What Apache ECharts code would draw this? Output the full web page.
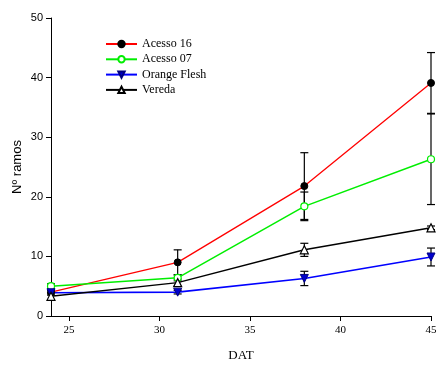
<!DOCTYPE html>
<html><head><meta charset="utf-8">
<script src="https://cdn.jsdelivr.net/npm/echarts@6/dist/echarts.min.js"></script>
<style>html,body{margin:0;padding:0;background:#fff}#c{width:440px;height:367px}</style>
</head><body><div id="c"></div>
<script>
var days = [24, 31, 38, 45];
var xTicks = [25, 30, 35, 40, 45];
var acesso16 = [4.0, 9.0, 21.8, 39.1];
var err16 = [0.3, 2.1, 5.6, 5.1];
var acesso07 = [5.0, 6.4, 18.4, 26.3];
var err07 = [0.4, 0.5, 2.4, 7.6];
var orange = [3.9, 4.0, 6.3, 9.9];
var errOrange = [0.4, 0.3, 1.2, 1.5];
var vereda = [3.3, 5.6, 11.1, 14.8];
var errVereda = [0.6, 0.6, 1.1, 0.3];

function pts(v){ return days.map(function(d,i){return [d, v[i]];}); }
function errs(v,e){ return days.map(function(d,i){return [d, v[i]-e[i], v[i]+e[i]];}); }

function renderErr(params, api){
  var x = api.value(0), lo = api.value(1), hi = api.value(2);
  var p1 = api.coord([x, lo]), p2 = api.coord([x, hi]);
  var w = 4;
  var st = {stroke:'#000', lineWidth:1.2};
  return {type:'group', children:[
    {type:'line', shape:{x1:p1[0],y1:p1[1],x2:p2[0],y2:p2[1]}, style:st},
    {type:'line', shape:{x1:p1[0]-w,y1:p1[1],x2:p1[0]+w,y2:p1[1]}, style:st},
    {type:'line', shape:{x1:p2[0]-w,y1:p2[1],x2:p2[0]+w,y2:p2[1]}, style:st}
  ]};
}
function errSeries(v,e){
  return {type:'custom', renderItem:renderErr, data:errs(v,e), clip:false, z:1, silent:true};
}

var chart = echarts.init(document.getElementById('c'), null, {renderer:'canvas'});
chart.setOption({
  animation:false,
  grid:{left:51, right:9, top:18, bottom:50, containLabel:false},
  legend:{
    orient:'vertical', left:105, top:38, itemWidth:31, itemHeight:8, itemGap:3.3, padding:0,
    textStyle:{fontFamily:'Liberation Serif', fontSize:12, color:'#000'},
    data:['Acesso 16','Acesso 07','Orange Flesh','Vereda']
  },
  xAxis:{
    type:'value', min:24, max:45,
    name:'DAT', nameLocation:'middle', nameGap:33, nameMoveOverlap:false,
    nameTextStyle:{fontFamily:'Liberation Serif', fontSize:13, color:'#000'},
    axisLine:{lineStyle:{color:'#000', width:1}},
    axisTick:{show:true, customValues:xTicks, length:5, lineStyle:{color:'#000'}},
    axisLabel:{customValues:xTicks, fontFamily:'Liberation Serif', fontSize:11, color:'#000', margin:9},
    splitLine:{show:false}
  },
  yAxis:{
    type:'value', min:0, max:50, interval:10,
    name:'Nº ramos', nameLocation:'middle', nameGap:27, nameMoveOverlap:false,
    nameTextStyle:{fontFamily:'Liberation Sans', fontSize:13, color:'#000'},
    axisLine:{show:true, lineStyle:{color:'#000', width:1}},
    axisTick:{show:true, length:5, lineStyle:{color:'#000'}},
    axisLabel:{fontFamily:'Liberation Sans', fontSize:11, color:'#000', margin:8},
    splitLine:{show:false}
  },
  series:[
    errSeries(acesso16, err16),
    errSeries(acesso07, err07),
    errSeries(orange, errOrange),
    errSeries(vereda, errVereda),
    {name:'Acesso 16', type:'line', data:pts(acesso16), clip:false, z:3,
     lineStyle:{color:'#ff0000', width:1.3}, itemStyle:{color:'#000', borderColor:'#000', borderWidth:1},
     symbol:'circle', symbolSize:7, color:'#ff0000'},
    {name:'Acesso 07', type:'line', data:pts(acesso07), clip:false, z:3,
     lineStyle:{color:'#00ee00', width:1.5}, itemStyle:{color:'#fff', borderColor:'#00ee00', borderWidth:1.2},
     symbol:'circle', symbolSize:7, color:'#00ee00'},
    {name:'Orange Flesh', type:'line', data:pts(orange), clip:false, z:3,
     lineStyle:{color:'#0000ff', width:1.6}, itemStyle:{color:'#0000cc', borderColor:'#000080', borderWidth:1},
     symbol:'triangle', symbolRotate:180, symbolSize:8, color:'#0000ff'},
    {name:'Vereda', type:'line', data:pts(vereda), clip:false, z:3,
     lineStyle:{color:'#000', width:1.5}, itemStyle:{color:'#fff', borderColor:'#000', borderWidth:1.2},
     symbol:'triangle', symbolSize:8, color:'#000'}
  ]
});
</script>
</body></html>
